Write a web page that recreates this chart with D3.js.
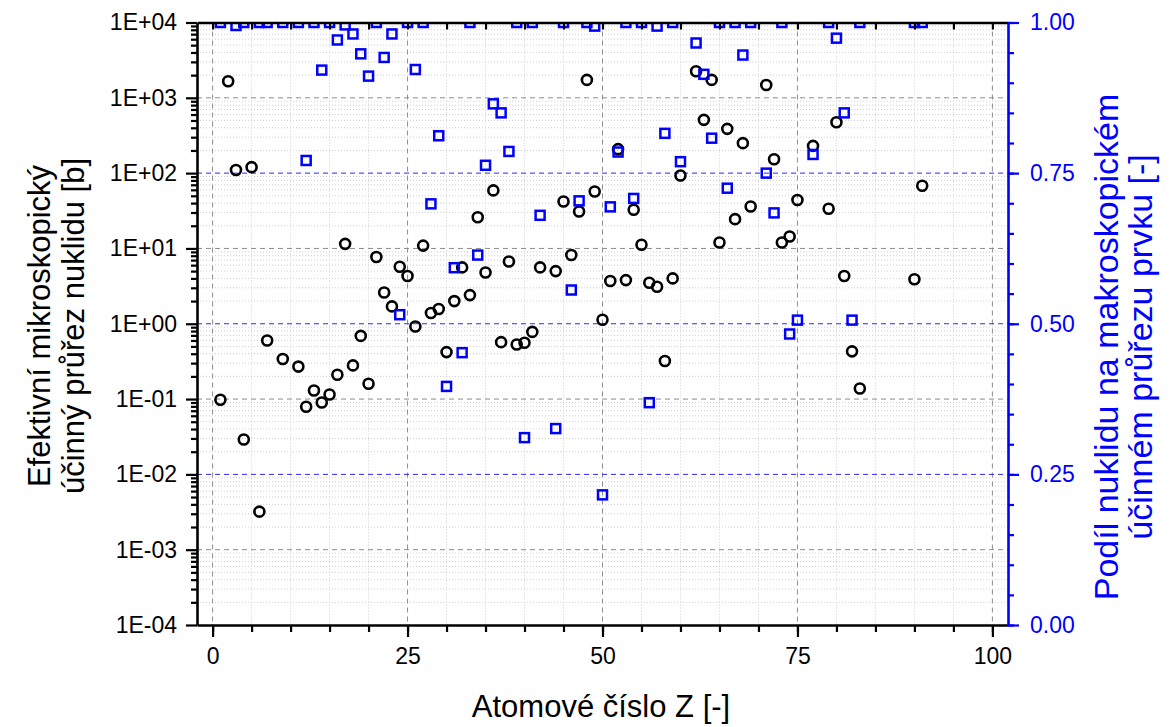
<!DOCTYPE html>
<html>
<head>
<meta charset="utf-8">
<script src="https://cdn.jsdelivr.net/npm/d3@7"></script>
<style>
  body { margin: 0; background: #fff; }
  text { font-family: "Liberation Sans", Arial, sans-serif; }
</style>
</head>
<body>
<svg id="chart" width="1169" height="727"></svg>
<script>
// black circles: effective microscopic cross section of the nuclide [b]
const circleZ = [1,2,3,4,5,6,7,9,11,12,13,14,15,16,17,18,19,20,
  21,22,23,24,25,26,27,28,29,30,31,32,33,34,35,36,37,38,39,40,41,42,
  44,45,46,47,48,49,50,51,52,53,54,55,56,57,58,59,60,
  62,63,64,65,66,67,68,69,71,72,73,74,75,77,79,80,81,82,83,90,91];
const circleSigma = [0.098,1660,110,0.029,120,0.0032,0.60,0.34,0.27,0.079,0.13,0.090,0.115,0.21,11.5,0.28,0.69,0.16,
  7.7,2.6,1.7,5.7,4.3,0.92,10.9,1.39,1.57,0.42,2.0,5.6,2.4,26,4.8,59,0.57,6.7,0.53,0.56,0.78,5.6,
  5.0,42,8.2,31,1730,57,1.13,3.7,208,3.8,32.6,11.2,3.5,3.1,0.32,4.0,93,
  2250,510,1730,12,387,24.5,250,36,1480,153,12,14.4,44,230,33.6,474,4.3,0.43,0.138,3.9,68];

// blue squares: share of the nuclide in the element's macroscopic cross section [-]
const squareZ = [1,3,4,6,7,9,11,12,13,14,15,16,17,18,19,20,21,22,23,24,25,26,27,28,29,30,
  31,32,33,34,35,36,37,38,39,40,41,42,44,45,46,47,48,49,50,51,52,53,54,55,56,57,58,59,60,
  62,63,64,65,66,67,68,69,71,72,73,74,75,77,79,80,81,82,83,90,91];
const squareShare = [1,0.995,1,1,1,1,1,0.771,1,0.921,1,0.971,0.996,0.981,0.948,0.911,1,0.942,0.981,0.515,1,0.922,1,0.699,0.812,0.396,
  0.593,0.452,1,0.614,0.763,0.865,0.850,0.786,1,0.311,1,0.680,0.326,1,0.556,0.704,1,0.994,0.216,0.694,0.785,1,0.708,1,0.369,0.994,0.816,1,0.769,
  0.966,0.914,0.808,1,0.725,1,0.946,1,0.750,0.684,1,0.483,0.506,0.781,1,0.974,0.850,0.506,1,1,1];

const xMajor = [0, 25, 50, 75, 100];
const yDecades = [1e-4, 1e-3, 1e-2, 1e-1, 1e0, 1e1, 1e2, 1e3, 1e4];
const rightMajor = [0, 0.25, 0.5, 0.75, 1];

const xTitle = "Atomové číslo Z [-]";
const leftTitle = ["Efektivní mikroskopický", "účinný průřez nuklidu [b]"];
const rightTitle = ["Podíl nuklidu na makroskopickém", "účinném průřezu prvku [-]"];

const blue = "#0000ff";
const plotLeft = 197, plotRight = 1008, plotTop = 22.5, plotBottom = 625;

let svg = d3.select("#chart");

let x = d3.scaleLinear().domain([-2, 102]).range([plotLeft, plotRight]);
let yL = d3.scaleLog().domain([1e-4, 1e4]).range([plotBottom, plotTop]);
let yR = d3.scaleLinear().domain([0, 1]).range([plotBottom, plotTop]);

let xMinor = d3.range(0, 101, 5);
let yMinor = [];
yDecades.slice(0, -1).forEach(d => {
    for (let m = 2; m <= 9; m++) yMinor.push(d * m);
});
let rightMinor = d3.range(0, 21).map(i => i / 20);

// minor grid (dotted)
let grid = svg.append("g").attr("class", "grid");
grid.selectAll(".vmin")
    .data(xMinor.filter(v => v % 25 !== 0))
    .enter().append("line")
    .attr("x1", d => x(d)).attr("x2", d => x(d))
    .attr("y1", plotTop).attr("y2", plotBottom)
    .attr("stroke", "#cfcfcf").attr("stroke-dasharray", "1,2");
grid.selectAll(".hmin")
    .data(yMinor)
    .enter().append("line")
    .attr("x1", plotLeft).attr("x2", plotRight)
    .attr("y1", d => yL(d)).attr("y2", d => yL(d))
    .attr("stroke", "#cfcfcf").attr("stroke-dasharray", "1,2");

// major grid (dashed); decades matching the right axis quarters are blue
grid.selectAll(".vmaj")
    .data(xMajor)
    .enter().append("line")
    .attr("x1", d => x(d)).attr("x2", d => x(d))
    .attr("y1", plotTop).attr("y2", plotBottom)
    .attr("stroke", "#8c8c8c").attr("stroke-dasharray", "5,4");
grid.selectAll(".hmaj")
    .data([1e-3, 1e-1, 1e1, 1e3])
    .enter().append("line")
    .attr("x1", plotLeft).attr("x2", plotRight)
    .attr("y1", d => yL(d)).attr("y2", d => yL(d))
    .attr("stroke", "#8c8c8c").attr("stroke-dasharray", "5,4");
grid.selectAll(".hright")
    .data([0.25, 0.5, 0.75])
    .enter().append("line")
    .attr("x1", plotLeft).attr("x2", plotRight)
    .attr("y1", d => yR(d)).attr("y2", d => yR(d))
    .attr("stroke", "#2a2aff").attr("stroke-dasharray", "5,4");

// marks
svg.append("clipPath").attr("id", "plot-clip")
    .append("rect")
    .attr("x", plotLeft).attr("y", plotTop)
    .attr("width", plotRight - plotLeft).attr("height", plotBottom - plotTop);

let marks = svg.append("g").attr("clip-path", "url(#plot-clip)");

marks.selectAll("circle")
    .data(circleZ.map((z, i) => ({z: z, v: circleSigma[i]})))
    .enter().append("circle")
    .attr("cx", d => x(d.z))
    .attr("cy", d => yL(d.v))
    .attr("r", 5)
    .attr("fill", "none")
    .attr("stroke", "#000")
    .attr("stroke-width", 2.6);

let side = 9;
marks.selectAll("rect")
    .data(squareZ.map((z, i) => ({z: z, v: squareShare[i]})))
    .enter().append("rect")
    .attr("x", d => x(d.z) - side / 2)
    .attr("y", d => yR(d.v) - side / 2)
    .attr("width", side).attr("height", side)
    .attr("fill", "none")
    .attr("stroke", blue)
    .attr("stroke-width", 2.5);

// axes
function styleAxis(g, color) {
    g.attr("font-family", null).attr("font-size", 23);
    g.selectAll("path.domain").attr("stroke", color).attr("stroke-width", 2.6);
    g.selectAll(".tick line").attr("stroke", color).attr("stroke-width", 2.2);
    g.selectAll(".tick text").attr("fill", color);
}

let fmtExp = d => {
    let e = Math.round(Math.log10(d));
    return "1E" + (e < 0 ? "-" : "+") + String(Math.abs(e)).padStart(2, "0");
};

// bottom
let gxMinor = svg.append("g").attr("transform", `translate(0,${plotBottom})`)
    .call(d3.axisBottom(x).tickValues(xMinor).tickSize(7).tickFormat(""));
gxMinor.select(".domain").remove();
styleAxis(gxMinor, "#000");
let gx = svg.append("g").attr("transform", `translate(0,${plotBottom})`)
    .call(d3.axisBottom(x).tickValues(xMajor).tickSize(12).tickSizeOuter(0).tickPadding(11));
styleAxis(gx, "#000");

// top (ticks pointing inward)
let gTop = svg.append("g").attr("transform", `translate(0,${plotTop})`)
    .call(d3.axisBottom(x).tickValues(xMinor).tickSize(7).tickSizeOuter(0).tickFormat(""));
styleAxis(gTop, "#000");

// left
let gyMinor = svg.append("g").attr("transform", `translate(${plotLeft},0)`)
    .call(d3.axisLeft(yL).tickValues(yMinor).tickSize(6).tickFormat(""));
gyMinor.select(".domain").remove();
styleAxis(gyMinor, "#000");
let gy = svg.append("g").attr("transform", `translate(${plotLeft},0)`)
    .call(d3.axisLeft(yL).tickValues(yDecades).tickFormat(fmtExp).tickSize(11).tickSizeOuter(0).tickPadding(9));
styleAxis(gy, "#000");

// right
let grMinor = svg.append("g").attr("transform", `translate(${plotRight},0)`)
    .call(d3.axisRight(yR).tickValues(rightMinor).tickSize(6).tickFormat(""));
grMinor.select(".domain").remove();
styleAxis(grMinor, blue);
let gr = svg.append("g").attr("transform", `translate(${plotRight},0)`)
    .call(d3.axisRight(yR).tickValues(rightMajor).tickFormat(d3.format(".2f")).tickSize(11).tickSizeOuter(0).tickPadding(11));
styleAxis(gr, blue);

// titles
svg.append("text")
    .attr("x", 601).attr("y", 717)
    .attr("text-anchor", "middle")
    .attr("font-size", 31)
    .text(xTitle);

let lt = svg.append("text")
    .attr("transform", "translate(0,326) rotate(-90)")
    .attr("text-anchor", "middle")
    .attr("font-size", 31);
lt.selectAll("tspan")
    .data(leftTitle)
    .enter().append("tspan")
    .attr("x", 0)
    .attr("y", (d, i) => 50 + i * 34)
    .text(d => d);

let rt = svg.append("text")
    .attr("transform", "translate(0,347) rotate(-90)")
    .attr("text-anchor", "middle")
    .attr("font-size", 34)
    .attr("fill", blue);
rt.selectAll("tspan")
    .data(rightTitle)
    .enter().append("tspan")
    .attr("x", 0)
    .attr("y", (d, i) => 1118 + i * 34)
    .text(d => d);
</script>
</body>
</html>
